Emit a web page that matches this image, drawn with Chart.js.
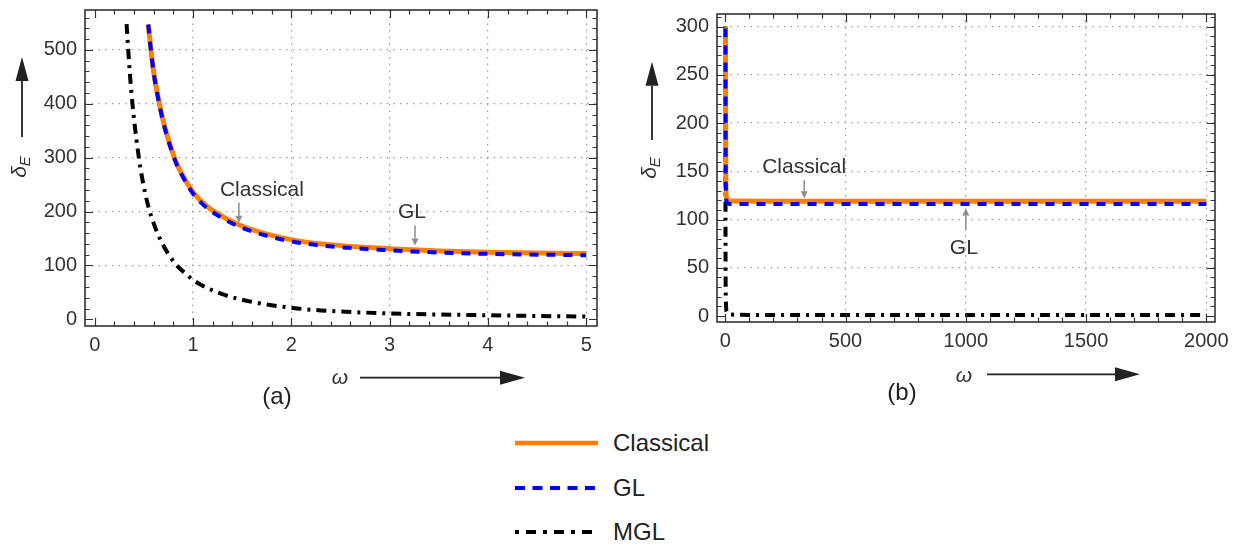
<!DOCTYPE html>
<html>
<head>
<meta charset="utf-8">
<script src="https://cdn.jsdelivr.net/npm/chart.js@4.4.1/dist/chart.umd.min.js"></script>
<style>
  body { margin: 0; background: #fff; width: 1234px; height: 546px; overflow: hidden; position: relative;
         font-family: 'Liberation Sans', Arial, sans-serif; }
  canvas { position: absolute; top: 0; }
  #chartA { left: 0; }
  #chartB { left: 615px; }
  .lg-row { position: absolute; left: 515px; height: 24px; display: flex; align-items: center; }
  .lg-row span { position: absolute; left: 98px; font-size: 24px; color: #222; white-space: nowrap; line-height: 24px; }
</style>
</head>
<body>
<canvas id="chartA" width="615" height="420"></canvas>
<canvas id="chartB" width="619" height="420"></canvas>
<div id="legend"></div>
<script>
// ---- panel (a): 0 < omega < 5 ----
const omegaA      = [0.544, 0.568, 0.6, 0.663, 0.7, 0.816, 0.9, 1.0, 1.12, 1.24, 1.47, 1.75, 2.02, 2.3, 3.0, 3.5, 4.0, 4.5, 5.0];
const classicalA  = [547, 505, 458, 395, 365, 297, 265, 236, 213, 197, 175, 158, 147, 140, 131, 127, 124.5, 123, 122];
const glA         = [547, 504, 456, 393, 363, 295, 263, 233, 210, 194, 172, 155, 144, 137, 128, 124, 121.5, 120, 119];
const omegaMglA   = [0.323, 0.357, 0.391, 0.452, 0.51, 0.551, 0.595, 0.68, 0.82, 0.936, 1.0, 1.276, 1.61, 2.02, 2.3, 3.0, 4.0, 5.0];
const mglA        = [548, 455, 385, 295, 236, 205, 180, 143, 103, 83, 73, 48, 32, 21, 16.5, 11, 7.5, 5];

// ---- panel (b): 0 < omega < 2000 ----
const omegaB      = [0.7, 1, 2, 5, 20, 200, 2000];
const classicalB  = [300, 235, 146, 122, 119.2, 119, 119];
const glB         = [298, 230, 143, 119, 116.2, 116, 116];
const omegaMglB   = [0.44, 1, 2, 5, 20, 200, 2000];
const mglB        = [300, 64, 21, 5, 1.5, 1, 1];

// ---- tick labels ----
const xTicksA = [0, 1, 2, 3, 4, 5];
const yTicksA = [0, 100, 200, 300, 400, 500];
const xTicksB = [0, 500, 1000, 1500, 2000];
const yTicksB = [0, 50, 100, 150, 200, 250, 300];

const seriesNames = ['Classical', 'GL', 'MGL'];

const lineStyles = {
  Classical: { color: '#ff8000', width: 5, dash: [], legendDash: '' },
  GL:        { color: '#0000ff', width: 4, dash: [9, 8], legendDash: '10 7.5' },
  MGL:       { color: '#000000', width: 4, dash: [10, 6, 3, 6], legendDash: '4 7 10 7' }
};

const FONT = "'Liberation Sans', Arial, sans-serif";
Chart.defaults.font.family = FONT;
Chart.defaults.color = '#333';

function toPoints(xs, ys) {
  return xs.map((x, i) => ({ x: x, y: ys[i] }));
}

function makeDataset(name, xs, ys, order) {
  const st = lineStyles[name];
  return {
    label: name,
    data: toPoints(xs, ys),
    showLine: true,
    borderColor: st.color,
    borderWidth: st.width,
    borderDash: st.dash,
    borderCapStyle: 'butt',
    pointRadius: 0,
    cubicInterpolationMode: 'monotone',
    fill: false,
    order: order
  };
}

function drawArrow(ctx, x0, y0, x1, y1, color, lw, headLen, headHalf) {
  const ang = Math.atan2(y1 - y0, x1 - x0);
  const bx = x1 - Math.cos(ang) * headLen, by = y1 - Math.sin(ang) * headLen;
  ctx.strokeStyle = color;
  ctx.fillStyle = color;
  ctx.lineWidth = lw;
  ctx.beginPath();
  ctx.moveTo(x0, y0);
  ctx.lineTo(bx, by);
  ctx.stroke();
  ctx.beginPath();
  ctx.moveTo(x1, y1);
  ctx.lineTo(bx - Math.sin(ang) * headHalf, by + Math.cos(ang) * headHalf);
  ctx.lineTo(bx + Math.sin(ang) * headHalf, by - Math.cos(ang) * headHalf);
  ctx.closePath();
  ctx.fill();
}

// frame with inward ticks, callouts and axis titles
const decorPlugin = {
  id: 'decor',
  afterDraw(chart, args, o) {
    const ctx = chart.ctx, a = chart.chartArea;
    const sx = chart.scales.x, sy = chart.scales.y;
    ctx.save();

    ctx.strokeStyle = '#333';
    ctx.lineWidth = 1.2;
    ctx.beginPath();
    for (let k = Math.ceil(sx.min / o.xMinor); k <= Math.floor(sx.max / o.xMinor); k++) {
      const v = k * o.xMinor;
      const major = Math.abs(v / o.xMajor - Math.round(v / o.xMajor)) < 1e-6;
      const len = major ? 8 : 4.5;
      const px = Math.round(sx.getPixelForValue(v)) + 0.5;
      ctx.moveTo(px, a.bottom); ctx.lineTo(px, a.bottom - len);
      ctx.moveTo(px, a.top); ctx.lineTo(px, a.top + len);
    }
    for (let k = Math.ceil(sy.min / o.yMinor); k <= Math.floor(sy.max / o.yMinor); k++) {
      const v = k * o.yMinor;
      const major = Math.abs(v / o.yMajor - Math.round(v / o.yMajor)) < 1e-6;
      const len = major ? 8 : 4.5;
      const py = Math.round(sy.getPixelForValue(v)) + 0.5;
      ctx.moveTo(a.left, py); ctx.lineTo(a.left + len, py);
      ctx.moveTo(a.right, py); ctx.lineTo(a.right - len, py);
    }
    ctx.stroke();
    ctx.lineWidth = 1.6;
    ctx.strokeRect(a.left, a.top, a.right - a.left, a.bottom - a.top);

    // callouts
    ctx.font = '21px ' + FONT;
    ctx.textAlign = 'center';
    o.notes.forEach(n => {
      const tx = sx.getPixelForValue(n.x), ty = sy.getPixelForValue(n.y);
      const dir = n.below ? 1 : -1;
      const tail = ty + dir * n.len;
      drawArrow(ctx, tx, tail, tx, ty, '#8c8c8c', 1.5, 7, 3.5);
      ctx.fillStyle = '#333';
      if (n.below) {
        ctx.textBaseline = 'top';
        ctx.fillText(n.text, tx + n.dx, tail + 7);
      } else {
        ctx.textBaseline = 'alphabetic';
        ctx.fillText(n.text, tx + n.dx, tail - 7);
      }
    });

    // y title: arrow up + rotated delta_E
    const yt = o.yTitle;
    drawArrow(ctx, yt.x, yt.y0, yt.x, yt.y1, '#222', 1.8, 24, 6.5);
    ctx.save();
    ctx.translate(yt.x, yt.ly);
    ctx.rotate(-Math.PI / 2);
    ctx.fillStyle = '#333';
    ctx.textBaseline = 'middle';
    ctx.textAlign = 'left';
    ctx.font = 'italic 21px ' + FONT;
    const wd = ctx.measureText('δ').width;
    ctx.font = 'italic 15px ' + FONT;
    const we = ctx.measureText('E').width;
    const x0 = -(wd + we) / 2;
    ctx.font = 'italic 21px ' + FONT;
    ctx.fillText('δ', x0, -2);
    ctx.font = 'italic 15px ' + FONT;
    ctx.fillText('E', x0 + wd, 4);
    ctx.restore();

    // x title: omega + arrow right
    const xt = o.xTitle;
    ctx.fillStyle = '#333';
    ctx.font = 'italic 21px ' + FONT;
    ctx.textAlign = 'center';
    ctx.textBaseline = 'middle';
    ctx.fillText('ω', xt.lx, xt.ly);
    drawArrow(ctx, xt.x0, xt.y, xt.x1, xt.y, '#222', 1.8, 25, 7);

    // panel label
    ctx.fillStyle = '#222';
    ctx.font = '24px ' + FONT;
    ctx.fillText(o.panel.text, o.panel.x, o.panel.y);

    ctx.restore();
  }
};

function makeChart(id, cfg) {
  return new Chart(document.getElementById(id), {
    type: 'scatter',
    data: {
      datasets: [
        makeDataset('Classical', cfg.cx, cfg.cy, 1),
        makeDataset('GL', cfg.cx, cfg.gy, 0),
        makeDataset('MGL', cfg.mx, cfg.my, 2)
      ]
    },
    options: {
      responsive: false,
      animation: false,
      devicePixelRatio: 1,
      layout: { padding: cfg.padding },
      plugins: {
        legend: { display: false },
        tooltip: { enabled: false },
        decor: cfg.decor
      },
      scales: {
        x: {
          type: 'linear',
          min: cfg.xRange[0], max: cfg.xRange[1],
          afterBuildTicks: s => { s.ticks = cfg.xTicks.map(v => ({ value: v })); },
          afterFit: s => { s.height = 30; s.paddingLeft = 0; s.paddingRight = 0; },
          ticks: { autoSkip: false, maxRotation: 0, padding: 7, font: { size: 20 }, color: '#333',
                   callback: v => String(v) },
          grid: { drawTicks: false, lineWidth: 1.2,
                  color: c => (c.tick && c.tick.value === 0) ? 'rgba(0,0,0,0)' : '#9a9a9a' },
          border: { display: false, dash: [1.5, 5.2] }
        },
        y: {
          type: 'linear',
          min: cfg.yRange[0], max: cfg.yRange[1],
          afterBuildTicks: s => { s.ticks = cfg.yTicks.map(v => ({ value: v })); },
          afterFit: s => { s.width = cfg.yWidth; s.paddingTop = 0; s.paddingBottom = 0; },
          ticks: { autoSkip: false, padding: 8, font: { size: 20 }, color: '#333',
                   callback: v => String(v) },
          grid: { drawTicks: false, lineWidth: 1.2,
                  color: c => (c.tick && c.tick.value === 0) ? 'rgba(0,0,0,0)' : '#9a9a9a' },
          border: { display: false, dash: [1.5, 5.2] }
        }
      }
    },
    plugins: [decorPlugin]
  });
}

makeChart('chartA', {
  cx: omegaA, cy: classicalA, gy: glA, mx: omegaMglA, my: mglA,
  xRange: [-0.1, 5.11], yRange: [-12.4, 574],
  xTicks: xTicksA, yTicks: yTicksA,
  yWidth: 85,
  padding: { left: 0, right: 18, top: 10, bottom: 64 },
  decor: {
    xMinor: 0.2, xMajor: 1, yMinor: 20, yMajor: 100,
    notes: [
      { text: 'Classical', x: 1.466, y: 179, len: 20, dx: 23 },
      { text: 'GL', x: 3.258, y: 137, len: 20, dx: -3 }
    ],
    yTitle: { x: 22, y0: 137, y1: 57, ly: 167 },
    xTitle: { lx: 340, ly: 378, x0: 360, x1: 525, y: 377.7 },
    panel: { text: '(a)', x: 277, y: 397 }
  }
});

makeChart('chartB', {
  cx: omegaB, cy: classicalB, gy: glB, mx: omegaMglB, my: mglB,
  xRange: [-34.5, 2036], yRange: [-6.2, 313],
  xTicks: xTicksB, yTicks: yTicksB,
  yWidth: 102,
  padding: { left: 0, right: 19, top: 14, bottom: 68 },
  decor: {
    xMinor: 100, xMajor: 500, yMinor: 10, yMajor: 50,
    notes: [
      { text: 'Classical', x: 328, y: 122, len: 18, dx: 0 },
      { text: 'GL', x: 1000, y: 111.5, len: 22, dx: -2, below: true }
    ],
    yTitle: { x: 37, y0: 140, y1: 61.7, ly: 168 },
    xTitle: { lx: 349, ly: 376, x0: 372, x1: 525, y: 374.3 },
    panel: { text: '(b)', x: 287, y: 393 }
  }
});

// legend below both panels
const legendTops = [431, 476, 520];
const legendBox = document.getElementById('legend');
seriesNames.forEach((name, i) => {
  const st = lineStyles[name];
  const row = document.createElement('div');
  row.className = 'lg-row';
  row.style.top = legendTops[i] + 'px';
  row.innerHTML =
    '<svg width="85" height="24"><line x1="0" y1="12" x2="83" y2="12" stroke="' + st.color +
    '" stroke-width="' + (name === 'Classical' ? 4.5 : 4) + '"' +
    (st.legendDash ? ' stroke-dasharray="' + st.legendDash + '"' : '') + '/></svg>' +
    '<span>' + name + '</span>';
  legendBox.appendChild(row);
});
</script>
</body>
</html>
